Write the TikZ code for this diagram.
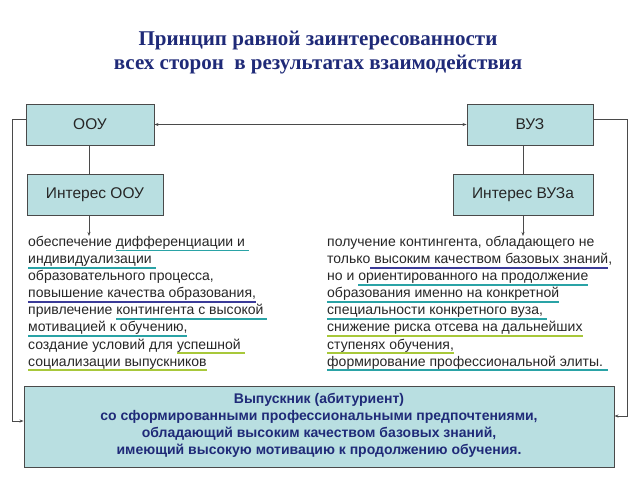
\documentclass[tikz,border=0pt]{standalone}
\usepackage{fontspec}
\setmainfont{Liberation Sans}
\newfontfamily\titlefont{Liberation Serif}
\usetikzlibrary{arrows.meta}
\definecolor{boxfill}{HTML}{B9DFE1}
\definecolor{tealu}{HTML}{2AA3A6}
\definecolor{blueu}{HTML}{3B3B98}
\definecolor{greenu}{HTML}{A8C83A}
\definecolor{navy}{HTML}{1F2A78}
\definecolor{txt}{HTML}{262626}
\definecolor{edge}{HTML}{4A4A4A}
\newsavebox\ulbox
\newcommand\cul[2]{\sbox\ulbox{#2}\rlap{\color{#1}\rule[-5pt]{\wd\ulbox}{1.8pt}}\usebox\ulbox}
\tikzset{
  sbox/.style={draw=edge, line width=0.9pt, fill=boxfill, minimum height=41pt, inner sep=0pt, font=\fontsize{15.5}{17}\selectfont, text=txt},
  conn/.style={draw=edge, line width=0.7pt},
  tip/.style={-{Stealth[length=4pt,width=3pt]}},
  body/.style={anchor=north west, align=left, inner sep=0pt, text=txt, font=\fontsize{14}{17.1}\selectfont},
  ttl/.style={anchor=base, inner sep=0pt, text=navy, font=\titlefont\bfseries\fontsize{21}{24}\selectfont},
}
\begin{document}
\begin{tikzpicture}[x=1pt,y=-1pt]
\useasboundingbox (0,0) rectangle (640,480);
\node[ttl] (title1) at (318,45) {Принцип равной заинтересованности};
\node[ttl] (title2) at (318,69) {всех сторон\ \ в результатах взаимодействия};
\node[sbox, minimum width=128pt] (ooy) at (90,124.5) {ООУ};
\node[sbox, minimum width=126pt] (vuz) at (530,124.5) {ВУЗ};
\node[sbox, minimum width=136pt] (iooy) at (95,194.5) {Интерес ООУ};
\node[sbox, minimum width=140pt] (ivuz) at (523,194.5) {Интерес ВУЗа};
\node[body] (lt) at (28,236) {%
обеспечение \cul{tealu}{дифференциации и }\\
\cul{tealu}{индивидуализации }\\
образовательного процесса,\\
\cul{blueu}{повышение качества образования,}\\
привлечение \cul{tealu}{контингента с высокой }\\
\cul{tealu}{мотивацией к обучению,}\\
создание условий для \cul{greenu}{успешной }\\
\cul{greenu}{социализации выпускников}};
\node[body] (rt) at (327,236) {%
получение контингента, обладающего не\\
только\cul{blueu}{ высоким качеством базовых знаний},\\
но и \cul{tealu}{ориентированного на продолжение}\\
\cul{tealu}{образования именно на конкретной}\\
\cul{tealu}{специальности конкретного вуза, }\\
\cul{greenu}{снижение риска отсева на дальнейших}\\
\cul{greenu}{ступенях обучения,}\\
\cul{tealu}{формирование профессиональной элиты. }};
\node[sbox, minimum width=590pt, minimum height=81pt, align=center, text=navy, font=\bfseries\fontsize{14}{17}\selectfont] (bot) at (319,426.5)
  {Выпускник (абитуриент)\\со сформированными профессиональными предпочтениями,\\обладающий высоким качеством базовых знаний,\\имеющий высокую мотивацию к продолжению обучения.\vphantom{p}\\[-12pt]\mbox{}};
% connectors
\draw[conn, {Stealth[length=4pt,width=3pt]}-{Stealth[length=4pt,width=3pt]}] (ooy.east) -- (vuz.west);
\coordinate (la) at (89,145);
\draw[conn] (la) -- (la |- iooy.north);
\coordinate (lb) at (89,215);
\draw[conn, tip] (lb) -- (lb |- lt.north);
\draw[conn] (ivuz.north) -- (ivuz.north |- vuz.south);
\draw[conn, tip] (ivuz.south) -- (ivuz.south |- rt.north);
\coordinate (lc) at (12,421);
\draw[conn, tip] ([yshift=5pt]ooy.west) -| (lc) -- (lc -| bot.west);
\coordinate (rc) at (627,416);
\draw[conn, tip] ([yshift=5pt]vuz.east) -| (rc) -- (rc -| bot.east);
\end{tikzpicture}
\end{document}
